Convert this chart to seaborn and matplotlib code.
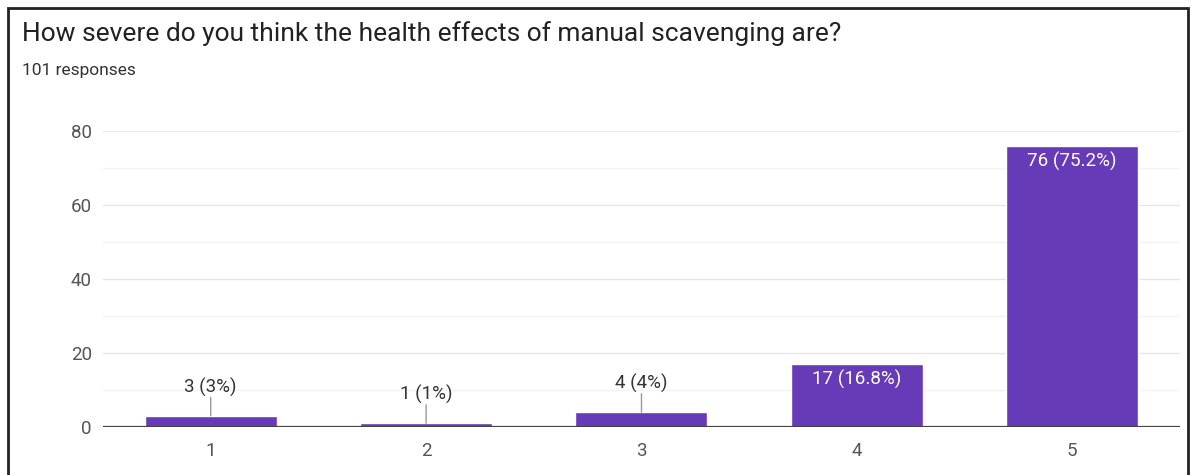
import matplotlib.pyplot as plt
import seaborn as sns
import pandas as pd
from matplotlib.patches import Rectangle

# Survey answers (scale 1-5) and number of responses
ratings = ['1', '2', '3', '4', '5']
counts = [3, 1, 4, 17, 76]
labels = ['3 (3%)', '1 (1%)', '4 (4%)', '17 (16.8%)', '76 (75.2%)']
title = 'How severe do you think the health effects of manual scavenging are?'
subtitle = '101 responses'

df = pd.DataFrame({'rating': ratings, 'count': counts})

sns.set_style('white')
plt.rcParams['font.family'] = ['Roboto', 'DejaVu Sans']

fig = plt.figure(figsize=(11.95, 4.75), dpi=100)
ax = fig.add_axes([0.0862, 0.1011, 0.9012, 0.6232])

sns.barplot(x='rating', y='count', data=df, color='#673ab7', saturation=1,
            width=0.613, ax=ax, zorder=3)

ax.set_ylim(0, 80)
ax.set_xlim(-0.5, 4.5)
ax.set_yticks([0, 20, 40, 60, 80])
ax.set_yticks([10, 30, 50, 70], minor=True)
ax.grid(axis='y', which='major', color='#e6e6e6', linewidth=1, zorder=0)
ax.grid(axis='y', which='minor', color='#f3f3f3', linewidth=1, zorder=0)
ax.axhline(0, color='#444444', linewidth=1.6, zorder=4)
for side in ['top', 'right', 'left', 'bottom']:
    ax.spines[side].set_visible(False)
ax.tick_params(axis='both', which='both', length=0, labelsize=13.5,
               labelcolor='#555555')
ax.tick_params(axis='y', pad=8)
ax.tick_params(axis='x', pad=11)
ax.set_xlabel('')
ax.set_ylabel('')

# value labels: small bars get a leader line, big bars white text inside
for i, (c, lab) in enumerate(zip(counts, labels)):
    if c < 10:
        ax.annotate('', xy=(i, c), xytext=(i, c + 5),
                    arrowprops=dict(arrowstyle='-', color='#999999', lw=1,
                                    shrinkA=0, shrinkB=0), zorder=5)
        ax.text(i, c + 7.7, lab, ha='center', va='center', fontsize=13.5,
                color='#333333', zorder=5)
    else:
        ax.text(i, c - 4.2, lab, ha='center', va='center', fontsize=13.5,
                color='#ffffff', zorder=5)

fig.text(22 / 1195, 1 - 34 / 475, title, ha='left', va='center',
         fontsize=19, color='#222222')
fig.text(22 / 1195, 1 - 70 / 475, subtitle, ha='left', va='center',
         fontsize=12.5, color='#333333')

# frame around the card
fig.patches.append(Rectangle((8 / 1195, -0.05), 1180 / 1195, 1.05 - 8 / 475,
                             transform=fig.transFigure, fill=False,
                             edgecolor='#222222', linewidth=2, clip_on=False))

fig.savefig('out.png', dpi=100)
